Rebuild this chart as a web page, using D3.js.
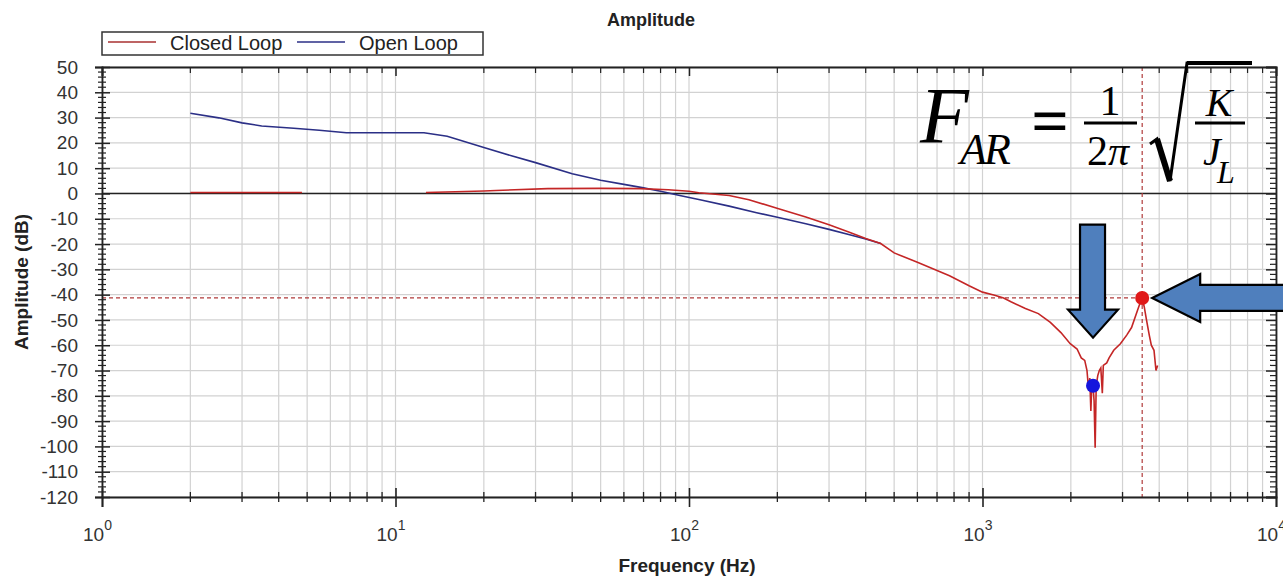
<!DOCTYPE html>
<html lang="en">
<head>
<meta charset="utf-8">
<title>Amplitude</title>
<script src="https://d3js.org/d3.v7.min.js"></script>
<style>
  body { margin: 0; background: #fff; }
  text { font-family: "Liberation Sans", Arial, sans-serif; }
  .serif { font-family: "Liberation Serif", "Times New Roman", serif; }
</style>
</head>
<body>
<script>
// open loop (blue) - frequency in Hz, amplitude in dB
var openFreq = [2, 2.5, 3, 3.5, 4.5, 5.5, 6.8, 10, 12.5, 15, 20, 25, 30, 40, 50, 60, 70, 80, 93, 110, 137, 170, 200, 250, 300, 350, 400, 450];
var openAmp  = [31.7, 29.9, 27.9, 26.7, 25.8, 25, 24, 24, 24, 22.6, 18.2, 14.8, 12.2, 7.8, 5.2, 3.6, 2.2, 0.9, -0.8, -2.6, -5, -7.6, -9.4, -12, -14.2, -16.2, -18, -19.8];

// closed loop (red), null = gap in the trace
var closedFreq = [2, 3, 4, 4.8, 8, 12.7, 16, 20, 22, 33, 50, 68, 85, 100, 108, 137, 160, 202, 250, 300, 350, 400, 450, 500, 600, 772, 900, 1000, 1100, 1180, 1250, 1400, 1550, 1703, 1850, 1990, 2100, 2170, 2230, 2270, 2300, 2320, 2340, 2360, 2380, 2400, 2420, 2440, 2470, 2500, 2530, 2560, 2580, 2650, 2700, 2800, 2950, 3100, 3220, 3370, 3450, 3500, 3560, 3620, 3700, 3760, 3840, 3900, 3950];
var closedAmp  = [0.4, 0.4, 0.4, 0.4, null, 0.4, 0.7, 1.0, 1.2, 1.9, 2.0, 1.9, 1.5, 0.9, 0.3, -0.8, -2.5, -6, -9.3, -12.4, -15.2, -17.8, -19.8, -23.5, -27.2, -32.5, -36.5, -39, -40.2, -41.3, -42.8, -45.5, -47.5, -51, -55, -59.4, -61.5, -65, -66, -70, -78, -73, -86, -74, -76, -82, -100.5, -76, -72, -70, -69, -79, -68, -67, -65, -62, -59.4, -56, -53, -46.4, -43, -41.3, -45, -50, -56, -60, -62, -70, -68];

// marker points
var peakFreq = 3500, peakAmp = -41.3;
var notchFreq = 2380, notchAmp = -76;

var yMajor = d3.range(-120, 51, 10);
var yMinor = d3.range(-120, 51, 2).filter(function(d) { return d % 10 !== 0; });
var decades = [1, 10, 100, 1000, 10000];

var w = 1283, h = 578;
var pLeft = 102, pRight = 1276, pTop = 67, pBottom = 497;

var svg = d3.select("body").append("svg")
  .attr("width", w).attr("height", h);

var x = d3.scaleLog().domain([1, 10000]).range([pLeft, pRight]);
var y = d3.scaleLinear().domain([-120, 50]).range([pBottom, pTop]);

var xAll = x.ticks();
var xMinor = xAll.filter(function(d) { return decades.indexOf(d) < 0; });

// grid
svg.append("g").selectAll("line").data(xAll).enter().append("line")
  .attr("x1", function(d) { return x(d); }).attr("x2", function(d) { return x(d); })
  .attr("y1", pTop).attr("y2", pBottom)
  .attr("stroke", "#d2d2d2").attr("stroke-width", 1.2);
svg.append("g").selectAll("line").data(yMajor).enter().append("line")
  .attr("x1", pLeft).attr("x2", pRight)
  .attr("y1", function(d) { return y(d); }).attr("y2", function(d) { return y(d); })
  .attr("stroke", "#d2d2d2").attr("stroke-width", 1.2);

// zero line
svg.append("line").attr("x1", pLeft).attr("x2", pRight)
  .attr("y1", y(0)).attr("y2", y(0))
  .attr("stroke", "#222").attr("stroke-width", 1.5);

// crosshair
svg.append("line").attr("x1", pLeft).attr("x2", x(peakFreq))
  .attr("y1", y(peakAmp)).attr("y2", y(peakAmp))
  .attr("stroke", "#b03a3a").attr("stroke-width", 1.2).attr("stroke-dasharray", "4,3");
svg.append("line").attr("x1", x(peakFreq)).attr("x2", x(peakFreq))
  .attr("y1", pTop).attr("y2", pBottom)
  .attr("stroke", "#b03a3a").attr("stroke-width", 1.2).attr("stroke-dasharray", "4,3");

// curves
var openData = openFreq.map(function(f, i) { return {f: f, v: openAmp[i]}; });
var closedData = closedFreq.map(function(f, i) { return {f: f, v: closedAmp[i]}; });

var line = d3.line()
  .defined(function(d) { return d.v !== null; })
  .x(function(d) { return x(d.f); })
  .y(function(d) { return y(d.v); });

svg.append("path").datum(openData).attr("d", line)
  .attr("fill", "none").attr("stroke", "#2b2f86").attr("stroke-width", 1.6);
svg.append("path").datum(closedData).attr("d", line)
  .attr("fill", "none").attr("stroke", "#c42626").attr("stroke-width", 1.6);

// markers
svg.append("circle").attr("cx", x(peakFreq)).attr("cy", y(peakAmp)).attr("r", 7).attr("fill", "#e01818");
svg.append("circle").attr("cx", x(notchFreq)).attr("cy", y(notchAmp)).attr("r", 7).attr("fill", "#1515dd");

// left axis
var gL = svg.append("g").attr("transform", "translate(" + pLeft + ",0)")
  .call(d3.axisLeft(y).tickValues(yMajor).tickSize(7).tickPadding(17).tickFormat(function(d) { return String(d); }));
gL.selectAll(".tick line").attr("x2", -7).attr("x1", 8).attr("stroke-width", 1.5);
gL.select(".domain").attr("stroke-width", 1.8);
svg.append("g").selectAll("line").data(yMinor).enter().append("line")
  .attr("x1", pLeft - 4).attr("x2", pLeft + 4)
  .attr("y1", function(d) { return y(d); }).attr("y2", function(d) { return y(d); })
  .attr("stroke", "#222").attr("stroke-width", 1.2);

// right axis
var gR = svg.append("g").attr("transform", "translate(" + pRight + ",0)")
  .call(d3.axisLeft(y).tickValues(yMajor).tickSize(10).tickFormat(""));
gR.selectAll(".tick line").attr("stroke-width", 1.5);
gR.select(".domain").attr("stroke-width", 1.8);
svg.append("g").selectAll("line").data(yMinor).enter().append("line")
  .attr("x1", pRight - 6).attr("x2", pRight)
  .attr("y1", function(d) { return y(d); }).attr("y2", function(d) { return y(d); })
  .attr("stroke", "#222").attr("stroke-width", 1.2);

// bottom axis
var gB = svg.append("g").attr("transform", "translate(0," + pBottom + ")")
  .call(d3.axisBottom(x).tickValues(decades).tickSize(10).tickFormat(""));
gB.selectAll(".tick line").attr("y1", -9).attr("stroke-width", 1.6);
gB.select(".domain").attr("stroke-width", 1.8);
svg.append("g").selectAll("line").data(xMinor).enter().append("line")
  .attr("x1", function(d) { return x(d); }).attr("x2", function(d) { return x(d); })
  .attr("y1", pBottom - 5).attr("y2", pBottom + 5)
  .attr("stroke", "#222").attr("stroke-width", 1.3);

// top axis
var gT = svg.append("g").attr("transform", "translate(0," + pTop + ")")
  .call(d3.axisBottom(x).tickValues(decades).tickSize(9).tickFormat(""));
gT.selectAll(".tick line").attr("stroke-width", 1.5);
gT.select(".domain").attr("stroke-width", 1.8);
svg.append("g").selectAll("line").data(xMinor).enter().append("line")
  .attr("x1", function(d) { return x(d); }).attr("x2", function(d) { return x(d); })
  .attr("y1", pTop).attr("y2", pTop + 6)
  .attr("stroke", "#222").attr("stroke-width", 1.2);

svg.selectAll(".domain, .tick line").attr("stroke", "#222");
gL.selectAll(".tick text").attr("font-size", 19).attr("fill", "#333")
  .style("font-family", "'Liberation Sans', Arial, sans-serif");

// decade labels 10^n
var xl = svg.append("g").selectAll("text").data(decades).enter().append("text")
  .attr("x", function(d) { return x(d) - 19; })
  .attr("y", 541)
  .attr("font-size", 19).attr("fill", "#333");
xl.append("tspan").text("10");
xl.append("tspan").attr("dy", -11).attr("font-size", 14)
  .text(function(d) { return Math.round(Math.log10(d)); });

// titles
svg.append("text").attr("x", 651).attr("y", 26).attr("text-anchor", "middle")
  .attr("font-size", 18).attr("font-weight", "bold").attr("fill", "#222").text("Amplitude");
svg.append("text").attr("x", 687).attr("y", 572).attr("text-anchor", "middle")
  .attr("font-size", 19).attr("font-weight", "bold").attr("fill", "#222").text("Frequency (Hz)");
svg.append("text").attr("transform", "translate(28," + ((pTop + pBottom) / 2) + ") rotate(-90)")
  .attr("text-anchor", "middle")
  .attr("font-size", 19).attr("font-weight", "bold").attr("fill", "#222").text("Amplitude (dB)");

// legend
var lg = svg.append("g");
lg.append("rect").attr("x", 102).attr("y", 32).attr("width", 381).attr("height", 23)
  .attr("fill", "#fff").attr("stroke", "#333").attr("stroke-width", 1.5);
lg.append("line").attr("x1", 108).attr("x2", 156).attr("y1", 42).attr("y2", 42)
  .attr("stroke", "#a83030").attr("stroke-width", 1.6);
lg.append("text").attr("x", 170).attr("y", 50).attr("font-size", 20).attr("fill", "#222").text("Closed Loop");
lg.append("line").attr("x1", 297).attr("x2", 345).attr("y1", 42).attr("y2", 42)
  .attr("stroke", "#2b2f86").attr("stroke-width", 1.6);
lg.append("text").attr("x", 359).attr("y", 50).attr("font-size", 20).attr("fill", "#222").text("Open Loop");

// arrows
var dx = x(notchFreq), dy = y(-57);
svg.append("path")
  .attr("d", "M" + (dx - 13) + "," + (dy - 113) + " L" + (dx + 12) + "," + (dy - 113) +
    " L" + (dx + 12) + "," + (dy - 28) + " L" + (dx + 25) + "," + (dy - 28) +
    " L" + dx + "," + dy + " L" + (dx - 25) + "," + (dy - 28) +
    " L" + (dx - 13) + "," + (dy - 28) + " Z")
  .attr("fill", "#4f7fbd").attr("stroke", "#000").attr("stroke-width", 2.2);
var lx = x(peakFreq) + 10, ly = y(peakAmp);
svg.append("path")
  .attr("d", "M" + lx + "," + ly + " L" + (lx + 48) + "," + (ly - 24) + " L" + (lx + 48) + "," + (ly - 13) +
    " L" + 1295 + "," + (ly - 13) + " L" + 1295 + "," + (ly + 13) +
    " L" + (lx + 48) + "," + (ly + 13) + " L" + (lx + 48) + "," + (ly + 24) + " Z")
  .attr("fill", "#4f7fbd").attr("stroke", "#000").attr("stroke-width", 2.2);

// formula
var fm = svg.append("g").attr("class", "serif").attr("fill", "#000");
fm.append("text").attr("class", "serif").attr("x", 920).attr("y", 143).attr("font-size", 80).attr("font-style", "italic").text("F");
fm.append("text").attr("class", "serif").attr("x", 960).attr("y", 164).attr("font-size", 44).attr("font-style", "italic").attr("letter-spacing", -3).text("AR");
fm.append("text").attr("class", "serif").attr("x", 1050).attr("y", 143).attr("text-anchor", "middle").attr("font-size", 66).attr("font-weight", "bold").text("=");
fm.append("text").attr("class", "serif").attr("x", 1110).attr("y", 115).attr("text-anchor", "middle").attr("font-size", 42).text("1");
fm.append("line").attr("x1", 1084).attr("x2", 1137).attr("y1", 123).attr("y2", 123).attr("stroke", "#000").attr("stroke-width", 3);
var den = fm.append("text").attr("class", "serif").attr("x", 1108).attr("y", 165).attr("text-anchor", "middle").attr("font-size", 42);
den.append("tspan").text("2");
den.append("tspan").attr("font-style", "italic").text("π");
fm.append("path").attr("d", "M1150,144 L1157,139 L1170,181 L1187,63 L1252,63")
  .attr("fill", "none").attr("stroke", "#000").attr("stroke-width", 3).attr("stroke-linejoin", "miter");
fm.append("path").attr("d", "M1157,139 L1170,181").attr("stroke", "#000").attr("stroke-width", 6);
fm.append("line").attr("x1", 1187).attr("x2", 1252).attr("y1", 63).attr("y2", 63).attr("stroke", "#000").attr("stroke-width", 4);
fm.append("text").attr("class", "serif").attr("x", 1219).attr("y", 116).attr("text-anchor", "middle").attr("font-size", 40).attr("font-style", "italic").text("K");
fm.append("line").attr("x1", 1195).attr("x2", 1245).attr("y1", 123).attr("y2", 123).attr("stroke", "#000").attr("stroke-width", 3);
fm.append("text").attr("class", "serif").attr("x", 1203).attr("y", 165).attr("font-size", 40).attr("font-style", "italic").text("J");
fm.append("text").attr("class", "serif").attr("x", 1217).attr("y", 183).attr("font-size", 32).attr("font-style", "italic").text("L");
</script>
</body>
</html>
